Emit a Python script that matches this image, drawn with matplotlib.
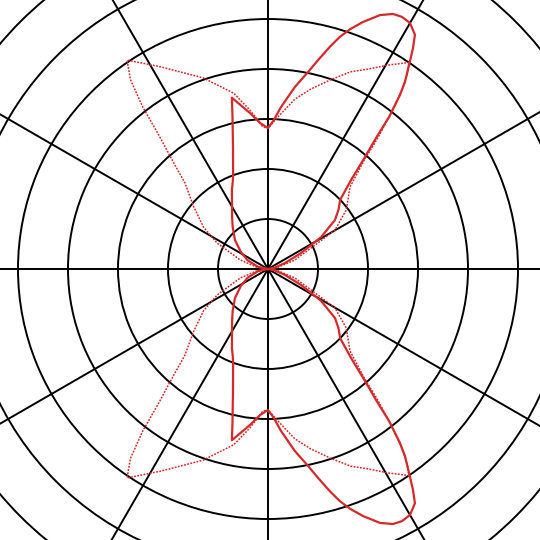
import numpy as np
import matplotlib
matplotlib.use('Agg')
import matplotlib.pyplot as plt

# upper half of each pattern (angle in degrees, radius in grid units, ring = 10)
# the lower half is the mirror image about the horizontal axis
solid_theta = [0, 10, 19.4, 25.9, 31, 36.2, 40, 43.8, 47, 49.1, 50.5, 51.5,
               52.8, 53.8, 55.6, 56.7, 57.9, 60, 62, 63.9, 66.2, 69, 71.1,
               72.8, 74.4, 76.5, 78.5, 81.6, 85.4, 88, 90, 93, 96.6, 101.9,
               103, 104, 106, 108, 110, 112, 114.5, 120, 124.7, 130, 138.7,
               148, 157, 168, 180]
solid_r = [0, 1.2, 3.6, 7.4, 12.4, 16.6, 18.4, 20.0, 24.4, 29.6, 34, 39,
           43.6, 46.4, 50.2, 52.8, 55.3, 56.8, 57.1, 56.8, 55.5, 52.9, 50.7,
           48.6, 46.2, 43, 40.2, 36.8, 32.5, 29.6, 28.2, 29.2, 31.4, 35,
           31.6, 29.2, 25.4, 22.6, 20.4, 18.8, 17.4, 14.4, 12.6, 11, 8.8,
           6.4, 4.4, 2, 0]

dotted_theta = [0, 10, 18.4, 27.5, 30.2, 37, 45, 48.5, 50, 51.5, 53, 54.5,
                55.7, 59.7, 63.4, 67.2, 71.8, 76.6, 81, 86.2, 90, 92, 96.5,
                101, 108.8, 118, 124, 126, 127.7, 129.3, 131, 134, 140, 147,
                153, 162, 170, 180]
dotted_r = [0, 2, 5.6, 11.2, 15.5, 19.6, 23.2, 29, 34, 39, 44, 48,
            50, 47.2, 44.7, 42.8, 39.8, 37, 34.4, 30.5, 28.2, 28.4, 32,
            35.8, 40.4, 45.8, 50.4, 46.8, 41, 34.2, 29.8, 23.9, 19.4, 15.4,
            11.4, 5.8, 2.4, 0]

ring_radii = [10, 20, 30, 40, 50, 60, 70, 80]
spoke_angles = list(range(0, 360, 30))

fig = plt.figure(figsize=(5.4, 5.4), dpi=100)
# polar axes bigger than the figure, centred near the middle
cx, cy, R = 268 / 540, (540 - 269) / 540, 450 / 540
ax = fig.add_axes([cx - R, cy - R, 2 * R, 2 * R], projection='polar')

red = '#d42a2a'
for sign in (1, -1):
    th = np.radians(solid_theta) * sign
    ax.plot(th, solid_r, color=red, lw=1.6)
    th = np.radians(dotted_theta) * sign
    ax.plot(th, dotted_r, color=red, lw=1.1, linestyle=(0, (1.2, 0.9)))

ax.set_rlim(0, 90)
ax.set_rgrids(ring_radii)
ax.set_thetagrids(spoke_angles)
ax.set_xticklabels([])
ax.set_yticklabels([])
ax.grid(True, color='black', lw=1.4)
ax.spines['polar'].set_visible(False)

fig.savefig('out.png', dpi=100)
